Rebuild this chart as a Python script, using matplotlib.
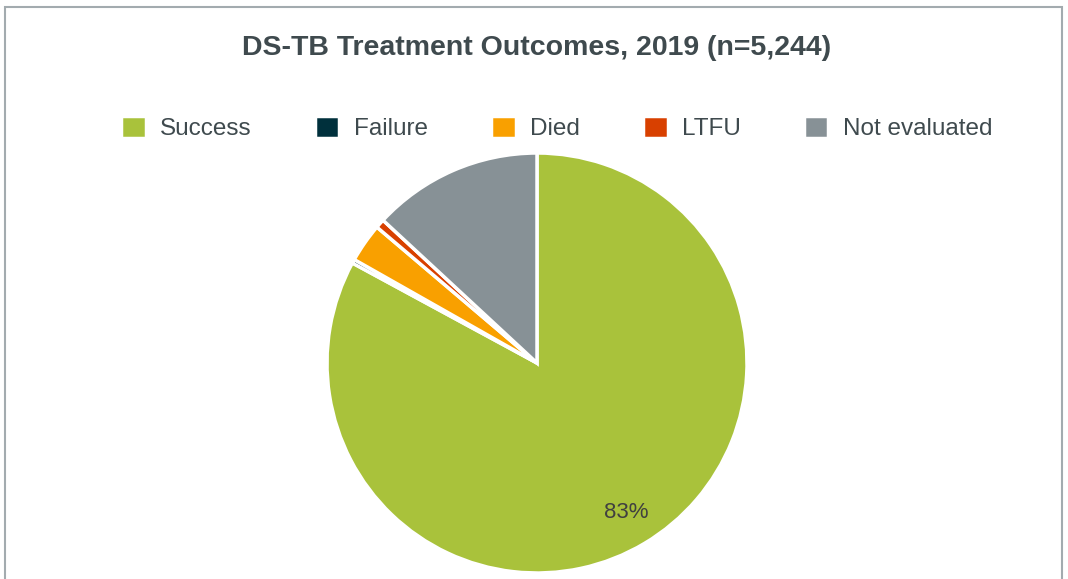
import matplotlib.pyplot as plt
from matplotlib.patches import Rectangle

#==Dados==#
categories = ['Success', 'Failure', 'Died', 'LTFU', 'Not evaluated']
values = [82.9, 0.3, 3.0, 0.7, 13.1]
colors = ['#A9C23B', '#00303C', '#F9A000', '#D84000', '#879196']
title = 'DS-TB Treatment Outcomes, 2019 (n=5,244)'

plt.rcParams['font.family'] = ['Liberation Sans', 'DejaVu Sans']

W, H = 1068, 579
fig = plt.figure(figsize=(W / 100, H / 100), dpi=100)

#==Moldura==#
fig.patches.append(Rectangle((5 / W, -0.1), 1057 / W, 1.1 - 7 / H, transform=fig.transFigure,
                             fill=False, edgecolor='#A3ABAF', linewidth=1.5))

#==Pizza==#
cx, cy, r = 537, 363, 210
ax = fig.add_axes([(cx - r) / W, (H - cy - r) / H, 2 * r / W, 2 * r / H])

def fmt(p):
    return f'{p:.0f}%' if p > 50 else ''

wedges, texts, autotexts = ax.pie(values, colors=colors, startangle=90, counterclock=False,
                                  autopct=fmt, pctdistance=0.83,
                                  wedgeprops=dict(edgecolor='white', linewidth=2.5),
                                  textprops=dict(color='#404040', fontsize=16))
ax.set_xlim(-1, 1)
ax.set_ylim(-1, 1)
ax.set_aspect('equal')

fig.text(cx / W, 1 - 48 / H, title, ha='center', va='center', fontsize=20.5,
         fontweight='bold', color='#3F4A4E')

fig.legend(wedges, categories, loc='center', bbox_to_anchor=(557 / W, 1 - 128 / H), ncol=5,
           frameon=False, fontsize=17.5, handlelength=1.0, handleheight=1.0, handletextpad=0.6,
           columnspacing=2.6, labelcolor='#3F4A4E')

fig.savefig('out.png', dpi=100)
